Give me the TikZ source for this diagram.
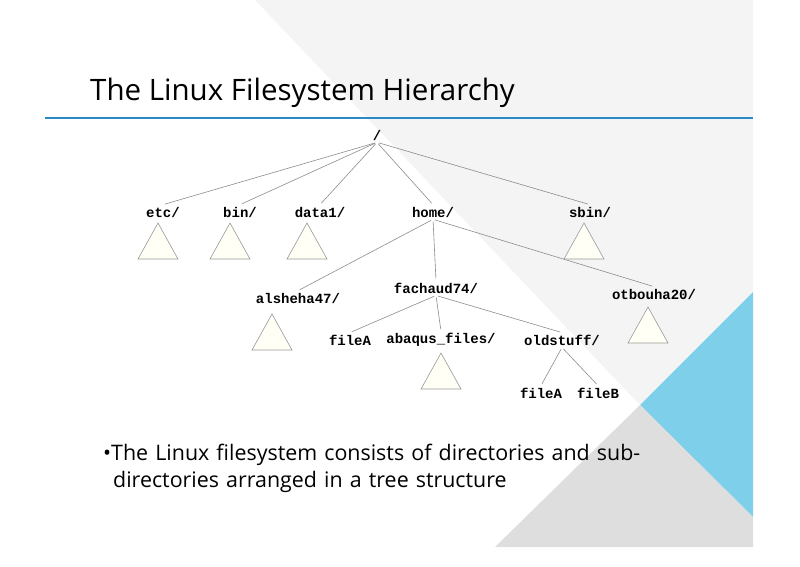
\documentclass[tikz,border=0pt]{standalone}
\usepackage{fontspec}
\setmainfont{Open Sans}
\newfontfamily\dirfont{Liberation Mono}
\usetikzlibrary{positioning}
\definecolor{slideblue}{HTML}{7DCFEA}
\definecolor{rulebl}{HTML}{2A8AC6}
\definecolor{lightbg}{HTML}{F4F4F4}
\definecolor{darkbg}{HTML}{DEDEDE}
\definecolor{ivory}{HTML}{FFFFF6}
\begin{document}
\begin{tikzpicture}[x=1pt,y=-1pt,
        dir/.style={font=\dirfont\bfseries\fontsize{14}{15}\selectfont,inner sep=2pt},
        sub/.style={fill=ivory,draw=gray!80,line width=0.6pt},
        link/.style={draw=gray!90,line width=0.6pt,shorten <=2pt,shorten >=2pt}]
    \useasboundingbox (0,0) rectangle (800,566);
    % background
    \fill[lightbg] (255,0) -- (640,405) -- (753,292) -- (753,0) -- cycle;
    \fill[slideblue] (753,292) -- (640,405) -- (753,517) -- cycle;
    \fill[darkbg] (495,547) -- (640,405) -- (753,517) -- (753,547) -- cycle;
    \node[anchor=base west,font=\fontsize{29.5}{32}\selectfont,inner sep=0pt] (title) at (90,100) {The Linux Filesystem Hierarchy};
    \draw[rulebl,line width=2.5pt] (45,118) -- (753,118);

    % tree
    \node[dir] (root) at (377,135) {/};
    \node[dir] (etc) at (163,212) {etc/};
    \node[dir] (bin) at (240,212) {bin/};
    \node[dir] (data) at (320,212) {data1/};
    \node[dir] (home) at (433,212) {home/};
    \node[dir] (sbin) at (590,212) {sbin/};
    \node[dir] (als) at (298,298) {alsheha47/};
    \node[dir] (fac) at (436,288) {fachaud74/};
    \node[dir] (otb) at (654,294) {otbouha20/};
    \node[dir] (fa) at (350,340) {fileA};
    \node[dir] (aba) at (441,340) {abaqus\_files/};
    \node[dir] (old) at (562,340) {oldstuff/};
    \node[dir] (ofa) at (541,393) {fileA};
    \node[dir] (ofb) at (598,393) {fileB};

    \foreach \c in {etc,bin,data,home,sbin}
        \draw[link] (root.south) -- (\c.north);
    \foreach \c in {als,fac,otb}
        \draw[link] (home.south) -- (\c.north);
    \foreach \c in {fa,aba,old}
        \draw[link] (fac.south) -- (\c.north);
    \foreach \c in {ofa,ofb}
        \draw[link] (old.south) -- (\c.north);

    % collapsed subtrees
    \foreach \n/\x/\y in {tetc/158/223,tbin/230/223,tdata/307/223,tsbin/584/223,
                          tals/272/314,taba/441/353,totb/648/307}
        \draw[sub] (\x,\y) -- (\x+20,\y+36) -- (\x-20,\y+36) -- cycle;

    \node[anchor=base west,text width=600pt,align=left,font=\fontsize{21.4}{27}\selectfont,inner sep=0pt] (text) at (103,460)
        {\textbullet The Linux filesystem consists of directories and sub-\\\hspace*{10pt}directories arranged in a tree structure};
\end{tikzpicture}
\end{document}
